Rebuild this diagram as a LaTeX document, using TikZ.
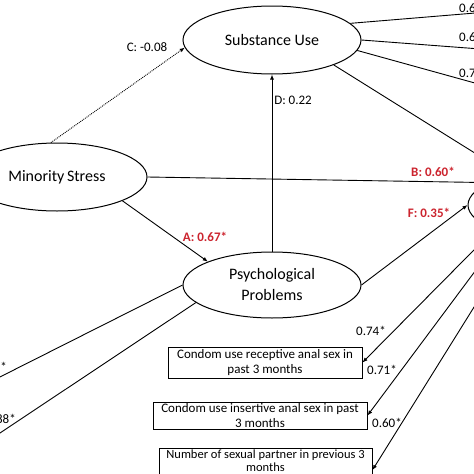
\documentclass[tikz,border=0pt]{standalone}
\usepackage{fontspec}
\setmainfont{Carlito}
\usetikzlibrary{shapes.geometric,arrows.meta}
\definecolor{lblred}{RGB}{204,36,46}
\begin{document}
\begin{tikzpicture}[x=1pt,y=-1pt,
  lat/.style={draw, ellipse, line width=1pt, inner sep=0pt, font=\fontsize{16}{21}\selectfont, align=center},
  obs/.style={draw, rectangle, line width=1pt, inner sep=0pt, font=\fontsize{13}{15.5}\selectfont, align=center},
  obstext/.style={inner sep=0pt, font=\fontsize{12.5}{13.5}\selectfont, align=center},
  conn/.style={line width=0.9pt},
  arr/.style={conn, -{Latex[length=5pt,width=4pt]}},
  lbl/.style={font=\fontsize{13}{15}\selectfont, inner sep=1pt},
  sig/.style={lbl, text=lblred, font=\fontsize{13}{15}\selectfont\bfseries}]
\useasboundingbox (0,0) rectangle (474,474);
\clip (0,0) rectangle (474,474);
\fill[white] (0,0) rectangle (474,474);

% latent variables
\node[lat, minimum width=178pt, minimum height=68pt] (su) at (272,40) {Substance Use};
\node[lat, minimum width=180pt, minimum height=68pt] (ms) at (57,177) {Minority\hspace{-1pt} Stress};
\node[lat, minimum width=178pt, minimum height=66pt] (pp) at (272,285) {Psychological\\Problems};
\node[lat, minimum width=180pt, minimum height=68pt] (sr) at (558,205) {};

% observed indicators
\node[obs, minimum width=194pt, minimum height=31pt] (b1) at (265,362.5) {Condom use receptive anal sex in\\past 3 months};
\node[obs, minimum width=214pt, minimum height=27pt] (b2) at (260,415.5) {Condom use insertive anal sex in past\\3 months};
\node[obs, minimum width=213pt, minimum height=44pt] (b3) at (265.5,470) {};
\node[obstext] (b3t) at (265.5,460.5) {Number of sexual partner in previous 3\\months};

% off-picture ends
\coordinate (o1) at (520,9.3);
\coordinate (o2) at (520,52);
\coordinate (o3) at (520,95.5);
\coordinate (l1) at (-20,387);
\coordinate (l2) at (-20,446.3);

% structural paths
\draw[arr, densely dotted] (ms.100) -- (su.185);
\draw[arr] (ms.-20) -- (pp.160);
\draw[arr] (pp.north) -- (su.south);
\draw[arr] (ms.east) -- (sr.162);
\draw[arr] (pp.east) -- (sr.west);
\draw[arr] (su.-22) -- (sr.148);

% substance use indicators
\draw[conn] (su.12) -- (o1);
\draw[conn] (su.east) -- (o2);
\draw[conn] (su.-7) -- (o3);

% psychological problems indicators
\draw[conn] (pp.west) -- (l1);
\draw[conn] (pp.-167) -- (l2);

% sexual risk indicators
\draw[arr] (sr.201) -- (b1.east);
\draw[arr] (sr.207.5) -- (b2.east);
\draw[arr] (sr.218) -- (b3.east);

% labels
\node[lbl] (lc) at (147,47) {C: -0.08};
\node[lbl] (ld) at (293,100) {D: 0.22};
\node[sig] (la) at (205,237) {A: 0.67*};
\node[sig] (lb) at (433,172) {B: 0.60*};
\node[sig] (lf) at (429,213) {F: 0.35*};
\node[lbl, anchor=west] (r1) at (458,8) {0.6};
\node[lbl, anchor=west] (r2) at (458,37) {0.6};
\node[lbl, anchor=west] (r3) at (458,73) {0.7};
\node[lbl, anchor=base east] (p1) at (8,371) {*};
\node[lbl, anchor=base east] (p2) at (17,423) {88*};
\node[lbl] (x1) at (371,331) {0.74*};
\node[lbl] (x2) at (382,370) {0.71*};
\node[lbl] (x3) at (387,423) {0.60*};
\end{tikzpicture}
\end{document}
